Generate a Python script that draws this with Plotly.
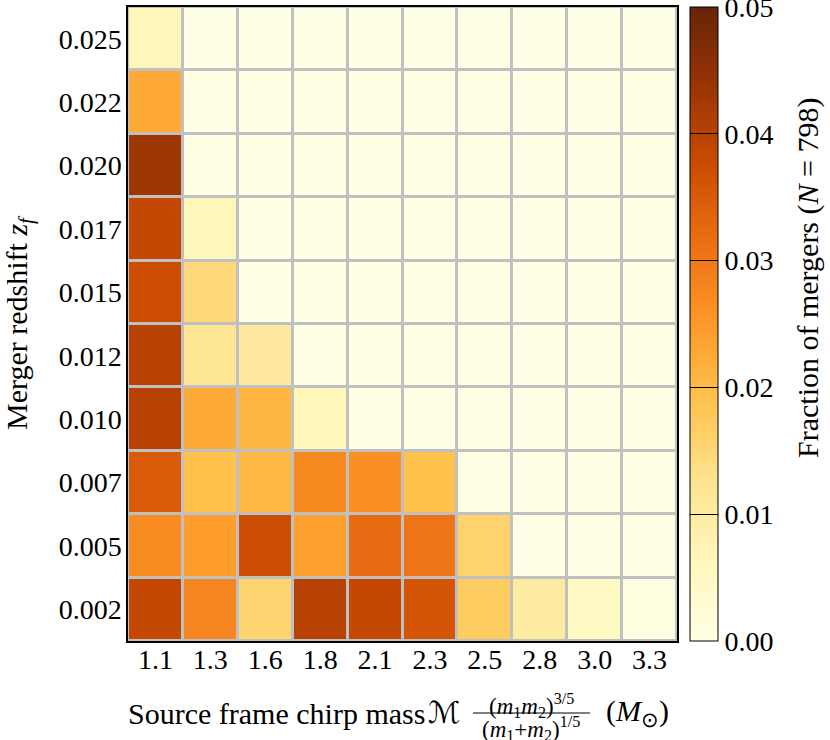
import plotly.graph_objects as go

# Chirp mass bins (x) and redshift bins (y, bottom to top)
mass_labels = ["1.1", "1.3", "1.6", "1.8", "2.1", "2.3", "2.5", "2.8", "3.0", "3.3"]
z_labels = ["0.002", "0.005", "0.007", "0.010", "0.012", "0.015", "0.017", "0.020", "0.022", "0.025"]

# Fraction of mergers, one list per redshift row (bottom -> top), columns follow mass_labels
row_002 = [0.0385, 0.0280, 0.0155, 0.0400, 0.0385, 0.0360, 0.0170, 0.0100, 0.0050, 0.0008]
row_005 = [0.0270, 0.0245, 0.0375, 0.0240, 0.0320, 0.0305, 0.0160, 0.0, 0.0, 0.0]
row_007 = [0.0350, 0.0190, 0.0205, 0.0275, 0.0265, 0.0190, 0.0, 0.0, 0.0, 0.0]
row_010 = [0.0400, 0.0225, 0.0210, 0.0065, 0.0, 0.0, 0.0, 0.0, 0.0, 0.0]
row_012 = [0.0400, 0.0120, 0.0105, 0.0, 0.0, 0.0, 0.0, 0.0, 0.0, 0.0]
row_015 = [0.0375, 0.0145, 0.0, 0.0, 0.0, 0.0, 0.0, 0.0, 0.0, 0.0]
row_017 = [0.0385, 0.0065, 0.0, 0.0, 0.0, 0.0, 0.0, 0.0, 0.0, 0.0]
row_020 = [0.0430, 0.0, 0.0, 0.0, 0.0, 0.0, 0.0, 0.0, 0.0, 0.0]
row_022 = [0.0225, 0.0, 0.0, 0.0, 0.0, 0.0, 0.0, 0.0, 0.0, 0.0]
row_025 = [0.0065, 0.0, 0.0, 0.0, 0.0, 0.0, 0.0, 0.0, 0.0, 0.0]

cb_ticks = [0.00, 0.01, 0.02, 0.03, 0.04, 0.05]

z = [row_002, row_005, row_007, row_010, row_012, row_015, row_017, row_020, row_022, row_025]

FONT = "Liberation Serif"
FS = 28
FT = 30

L, R, T, B = 128, 153, 7, 99
PW, PH = 830 - L - R, 740 - T - B
CB_PAD = 10

fig = go.Figure(go.Heatmap(
    z=z,
    x=list(range(len(mass_labels))),
    y=list(range(len(z_labels))),
    colorscale="YlOrBr",
    zmin=0, zmax=0.05,
    xgap=3, ygap=3,
    hoverongaps=False,
    colorbar=dict(
        x=1.0237, xanchor="left", xref="paper",
        y=-CB_PAD / PH, yanchor="bottom", len=1.0 + 2 * CB_PAD / PH, lenmode="fraction",
        thickness=28, outlinewidth=1, outlinecolor="black", xpad=0, ypad=CB_PAD,
        tickvals=cb_ticks, ticktext=[f"{v:.2f}" for v in cb_ticks],
        ticks="inside", ticklen=28, tickcolor="black", tickwidth=1,
        ticklabeloverflow="allow",
        tickfont=dict(family=FONT, size=FS, color="black"),
    ),
))

fig.update_xaxes(
    tickvals=list(range(len(mass_labels))), ticktext=mass_labels,
    range=[-0.5, len(mass_labels) - 0.5],
    showline=True, linecolor="black", linewidth=1.5, mirror=True,
    ticks="", showgrid=False, zeroline=False, ticklabelstandoff=-7,
    tickfont=dict(family=FONT, size=FS, color="black"),
)
fig.update_yaxes(
    tickvals=list(range(len(z_labels))), ticktext=z_labels,
    range=[-0.5, len(z_labels) - 0.5],
    showline=True, linecolor="black", linewidth=1.5, mirror=True,
    ticks="", showgrid=False, zeroline=False, ticklabelstandoff=-1,
    tickfont=dict(family=FONT, size=FS, color="black"),
    title=dict(text="Merger redshift <i>z<sub>f</sub></i>", standoff=32,
               font=dict(family=FONT, size=FT, color="black")),
)


def px(xp):
    return (xp - L) / PW


def py(yp):
    return (740 - B - yp) / PH


ann_font = dict(family=FONT, size=FT, color="black")
frac_font = dict(family=FONT, size=23, color="black")
annotations = [
    dict(x=px(126), y=py(713), xref="paper", yref="paper", xanchor="left", yanchor="middle",
         text="Source frame chirp mass", showarrow=False, font=ann_font),
    dict(x=px(444), y=py(712), xref="paper", yref="paper", xanchor="center", yanchor="middle",
         text="ℳ", showarrow=False, font=dict(family="DejaVu Sans", size=30, color="black")),
    dict(x=px(531), y=py(722), xref="paper", yref="paper", xanchor="center", yanchor="bottom",
         text="(<i>m</i><sub>1</sub><i>m</i><sub>2</sub>)<sup>3/5</sup>", showarrow=False,
         font=frac_font, borderpad=0),
    dict(x=px(531), y=py(712), xref="paper", yref="paper", xanchor="center", yanchor="top",
         text="(<i>m</i><sub>1</sub>+<i>m</i><sub>2</sub>)<sup>1/5</sup>", showarrow=False,
         font=frac_font, borderpad=0),
    dict(x=px(604), y=py(713), xref="paper", yref="paper", xanchor="left", yanchor="middle",
         text="(<i>M</i><sub>⊙</sub>)", showarrow=False, font=ann_font),
    dict(x=px(808), y=py(278), xref="paper", yref="paper", xanchor="center", yanchor="middle",
         text="Fraction of mergers (<i>N</i> = 798)", textangle=-90, showarrow=False, font=ann_font),
]
shapes = [
    dict(type="line", xref="paper", yref="paper", x0=px(473), x1=px(590), y0=py(713), y1=py(713),
         line=dict(color="black", width=1)),
]

fig.update_layout(
    width=830, height=740,
    margin=dict(l=L, r=R, t=T, b=B, autoexpand=False),
    plot_bgcolor="#c0c0c0", paper_bgcolor="white",
    font=dict(family=FONT, size=FS, color="black"),
    annotations=annotations, shapes=shapes,
)

fig.write_html("out.html", config={"displayModeBar": False},
               post_script="document.body.style.margin='0px';")
